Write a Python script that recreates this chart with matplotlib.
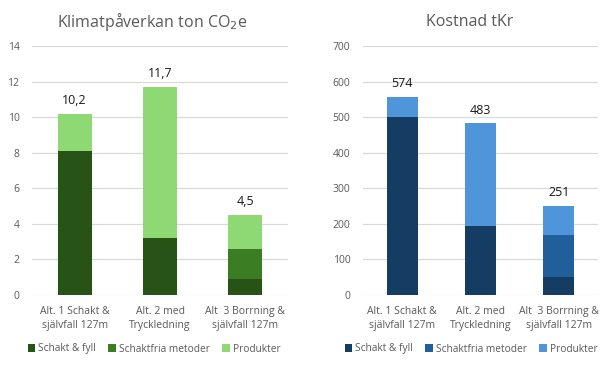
import matplotlib
matplotlib.use("Agg")
import matplotlib.pyplot as plt
import numpy as np

plt.rcParams['font.family'] = ['Open Sans', 'DejaVu Sans']

categories = ["Alt. 1 Schakt &\nsjälvfall 127m", "Alt. 2 med\nTryckledning", "Alt  3 Borrning &\nsjälvfall 127m"]
series_names = ["Schakt & fyll", "Schaktfria metoder", "Produkter"]

# Klimatpåverkan ton CO2e
climate_schakt = [8.1, 3.2, 0.87]
climate_schaktfria = [0.0, 0.0, 1.7]
climate_produkter = [2.1, 8.5, 1.9]
climate_labels = ["10,2", "11,7", "4,5"]

# Kostnad tKr
cost_schakt = [500, 193, 51]
cost_schaktfria = [0, 0, 116]
cost_produkter = [56, 289, 84]
cost_labels = ["574", "483", "251"]

green_colors = ["#275317", "#3a7d22", "#8ed973"]
blue_colors = ["#153d64", "#215f9a", "#4e95d9"]

gray = "#595959"
grid = "#d9d9d9"

fig = plt.figure(figsize=(6.05, 3.66), dpi=100)
W, H = 605, 366

def make_axes(x0, x1, y0, y1):
    return fig.add_axes([x0 / W, 1 - y1 / H, (x1 - x0) / W, (y1 - y0) / H])

def draw(ax, series, colors, labels, ymax, step, title, title_x, legend_x):
    x = np.arange(len(categories))
    bottom = np.zeros(len(categories))
    handles = []
    for vals, c, name in zip(series, colors, series_names):
        b = ax.bar(x, vals, 0.4, bottom=bottom, color=c, label=name, zorder=3)
        handles.append(b)
        bottom = bottom + np.array(vals)
    for xi, top, lab in zip(x, bottom, labels):
        ax.annotate(lab, (xi, top), xytext=(0, 5), textcoords="offset points",
                    ha="center", va="bottom", fontsize=9, color="#1a1a1a")
    ax.set_xlim(-0.5, len(categories) - 0.5)
    ax.set_ylim(0, ymax)
    ax.set_yticks(np.arange(0, ymax + step / 2, step))
    ax.set_xticks(x)
    ax.set_xticklabels(categories, fontsize=7.5, color=gray, linespacing=1.45)
    ax.tick_params(axis="y", length=0, pad=9, labelsize=7.5, labelcolor=gray)
    ax.tick_params(axis="x", length=0, pad=8)
    for s in ax.spines.values():
        s.set_visible(False)
    ax.grid(axis="y", color=grid, linewidth=0.9, zorder=0)
    ax.set_axisbelow(True)
    fig.text(title_x / W, 1 - 22 / H, title, ha="center", va="center",
             fontsize=11.5, color=gray)
    fig.legend(handles=handles, loc="center", bbox_to_anchor=(legend_x / W, 1 - 349 / H),
               ncol=3, frameon=False, fontsize=7.3, labelcolor=gray,
               handlelength=0.75, handleheight=0.75, handletextpad=0.3,
               columnspacing=1.2)

ax1 = make_axes(32, 288, 46, 294.7)
draw(ax1, [climate_schakt, climate_schaktfria, climate_produkter], green_colors,
     climate_labels, 14, 2, "Klimatpåverkan ton CO$_2$e", 152, 154)

ax2 = make_axes(363, 598, 46, 294.7)
draw(ax2, [cost_schakt, cost_schaktfria, cost_produkter], blue_colors,
     cost_labels, 700, 100, "Kostnad tKr", 470, 471)

fig.savefig("out.png", dpi=100, facecolor="white")
